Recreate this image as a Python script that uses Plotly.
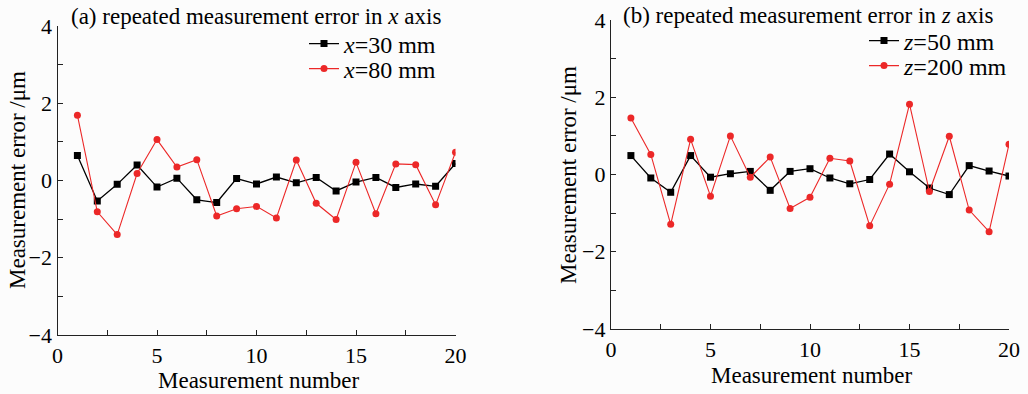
import plotly.graph_objects as go

measurement = list(range(1, 21))
x30 = [0.65, -0.53, -0.10, 0.40, -0.17, 0.06, -0.50, -0.57, 0.05, -0.09,
       0.09, -0.06, 0.08, -0.27, -0.04, 0.08, -0.18, -0.09, -0.15, 0.44]
x80 = [1.69, -0.81, -1.40, 0.18, 1.06, 0.35, 0.54, -0.92, -0.73, -0.67,
       -0.97, 0.53, -0.59, -1.01, 0.47, -0.86, 0.43, 0.41, -0.63, 0.73]
z50 = [0.49, -0.09, -0.46, 0.49, -0.07, 0.02, 0.08, -0.41, 0.08, 0.15,
       -0.09, -0.24, -0.13, 0.53, 0.07, -0.35, -0.52, 0.23, 0.09, -0.04]
z200 = [1.46, 0.52, -1.29, 0.91, -0.56, 1.00, -0.07, 0.45, -0.88, -0.59,
        0.42, 0.35, -1.33, -0.25, 1.82, -0.44, 0.99, -0.92, -1.48, 0.78]

names_left = ["<i>x</i>=30 mm", "<i>x</i>=80 mm"]
names_right = ["<i>z</i>=50 mm", "<i>z</i>=200 mm"]
titles = ["(a) repeated measurement error in <i>x</i> axis",
          "(b) repeated measurement error in <i>z</i> axis"]
xlabel = "Measurement number"
ylabel = "Measurement error /μm"

FONT = "Liberation Serif"
BLACK = "#000000"
RED = "#ec2828"
W, H = 1028, 394


def px_x(p):
    return p / W


def px_y(p):
    return 1 - p / H


series = [
    (x30, names_left[0], BLACK, "square", "x", "y", "legend"),
    (x80, names_left[1], RED, "circle", "x", "y", "legend2"),
    (z50, names_right[0], BLACK, "square", "x2", "y2", "legend3"),
    (z200, names_right[1], RED, "circle", "x2", "y2", "legend4"),
]

fig = go.Figure()
for vals, name, col, sym, xa, ya, lg in series:
    fig.add_trace(go.Scatter(
        x=measurement, y=vals, name=name, mode="lines+markers",
        line=dict(color=col, width=1.3 if col == BLACK else 1.1),
        marker=dict(symbol=sym, size=7, color=col),
        xaxis=xa, yaxis=ya, legend=lg))

axis_common = dict(showline=True, linecolor="#222", linewidth=1.3, mirror=False,
                   ticks="inside", ticklen=5, tickcolor="#222", tickwidth=1.2,
                   showgrid=False, zeroline=False, automargin=False,
                   tickfont=dict(family=FONT, size=22, color="black"))

xaxis_common = dict(axis_common, range=[0, 20], tickvals=[0, 5, 10, 15, 20],
                    minor=dict(ticks="inside", ticklen=5, tickwidth=1.2, tickcolor="#222",
                               dtick=2.5, tick0=0, showgrid=False))
yaxis_common = dict(axis_common, range=[-4, 4], tickvals=[-4, -2, 0, 2, 4],
                    minor=dict(ticks="inside", ticklen=5, tickwidth=1.2, tickcolor="#222",
                               dtick=1, tick0=0, showgrid=False))


def legend_at(xp, yp):
    return dict(x=px_x(xp), y=px_y(yp), xanchor="left", yanchor="middle",
                bgcolor="rgba(0,0,0,0)", borderwidth=0,
                font=dict(family=FONT, size=24, color="black"))


fig.update_layout(
    width=W, height=H,
    margin=dict(l=0, r=0, t=0, b=0, pad=0, autoexpand=False),
    paper_bgcolor="#fcfcfc", plot_bgcolor="#fcfcfc",
    font=dict(family=FONT, size=22, color="black"),
    xaxis=dict(xaxis_common, domain=[px_x(57.5), px_x(455.5)], anchor="y"),
    yaxis=dict(yaxis_common, domain=[px_y(335), px_y(26)], anchor="x"),
    xaxis2=dict(xaxis_common, domain=[px_x(611), px_x(1009)], anchor="y2"),
    yaxis2=dict(yaxis_common, domain=[px_y(329), px_y(20)], anchor="x2"),
    legend=legend_at(304, 44),
    legend2=legend_at(304, 69),
    legend3=legend_at(864, 41),
    legend4=legend_at(864, 66),
    showlegend=True,
)

annotations = [
    dict(text=titles[0], x=px_x(69), y=px_y(17), xanchor="left", yanchor="middle"),
    dict(text=titles[1], x=px_x(621), y=px_y(15), xanchor="left", yanchor="middle"),
    dict(text=xlabel, x=px_x(259), y=px_y(380), xanchor="center", yanchor="middle"),
    dict(text=xlabel, x=px_x(812), y=px_y(375), xanchor="center", yanchor="middle"),
    dict(text=ylabel, x=px_x(17), y=px_y(180), xanchor="center", yanchor="middle", textangle=-90),
    dict(text=ylabel, x=px_x(569), y=px_y(175), xanchor="center", yanchor="middle", textangle=-90),
]
for a in annotations:
    a.update(xref="paper", yref="paper", showarrow=False,
             font=dict(family=FONT, size=23, color="black"))
fig.update_layout(annotations=annotations)

fig.write_html("out.html")
